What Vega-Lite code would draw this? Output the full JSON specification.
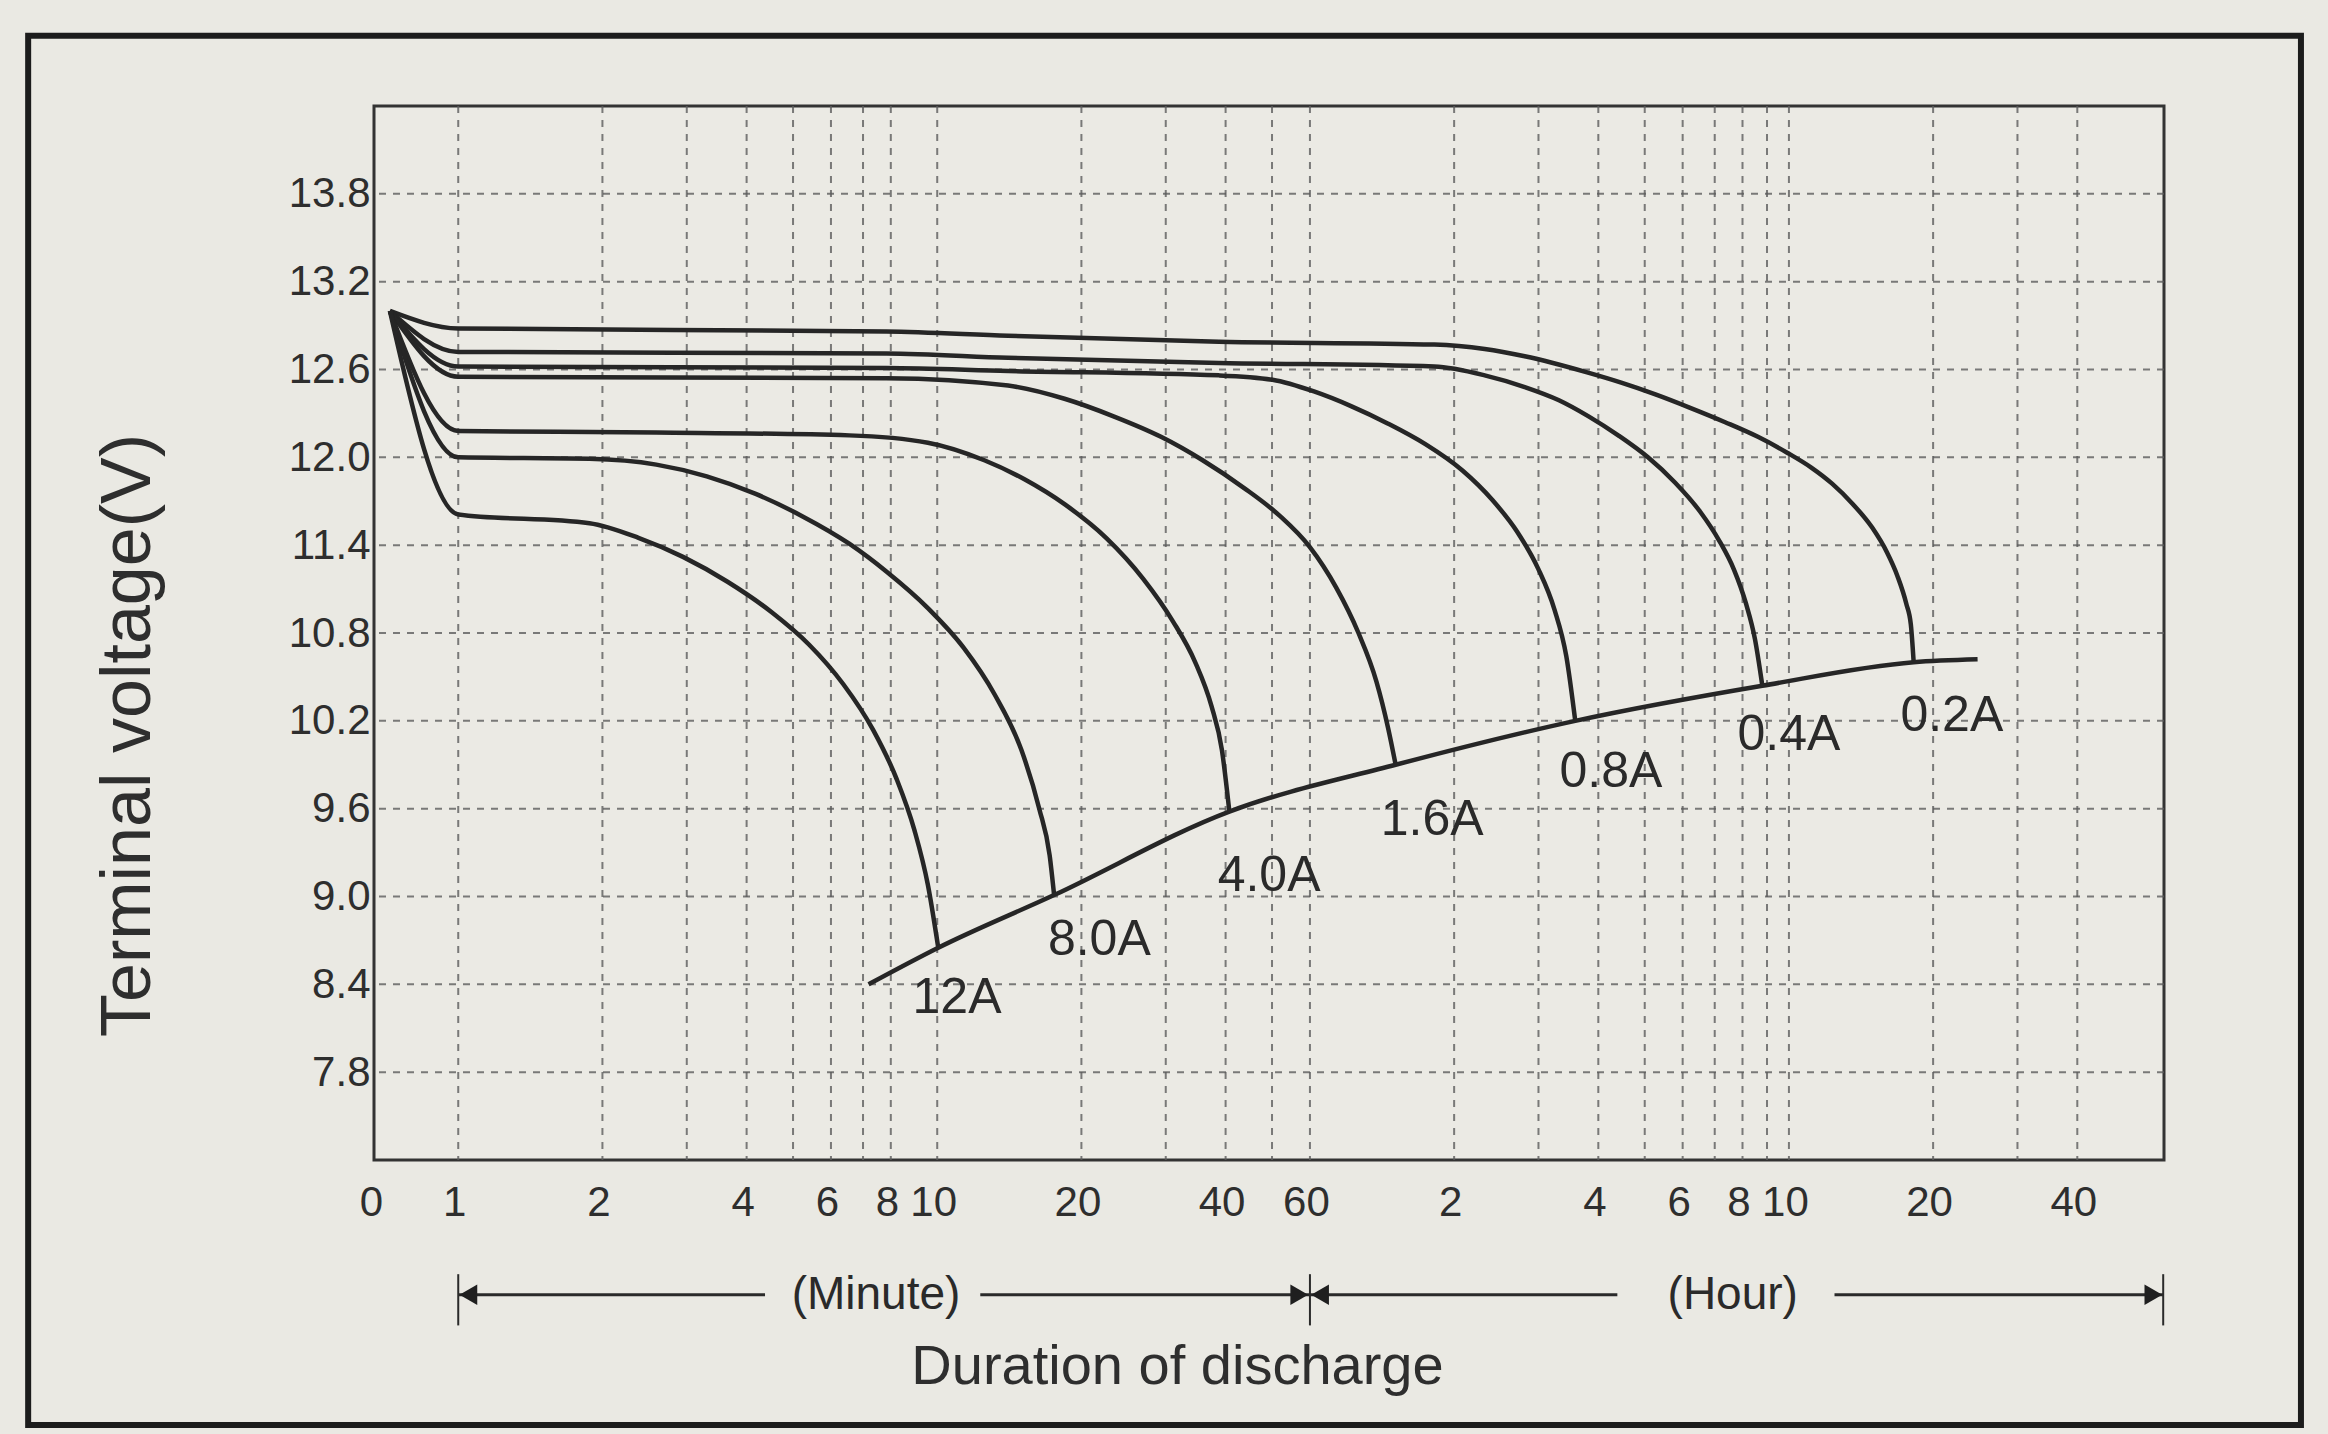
{
  "$schema": "https://vega.github.io/schema/vega-lite/v6.json",
  "width": 1790,
  "height": 1054,
  "autosize": {"type": "none"},
  "padding": {"left": 374, "top": 106, "right": 164, "bottom": 274},
  "background": "#eae9e3",
  "config": {
    "view": {"fill": "#ebeae4", "stroke": "#333333", "strokeWidth": 3},
    "axis": {"grid": false, "ticks": false, "domain": false, "labelFont": "Liberation Sans", "labelColor": "#2e2e2e", "titleFont": "Liberation Sans", "titleColor": "#2e2e2e", "titleFontWeight": "normal"},
    "text": {"font": "Liberation Sans"}
  },
  "datasets": {
    "ygrid": [{"volts": 7.8}, {"volts": 8.4}, {"volts": 9.0}, {"volts": 9.6}, {"volts": 10.2}, {"volts": 10.8}, {"volts": 11.4}, {"volts": 12.0}, {"volts": 12.6}, {"volts": 13.2}, {"volts": 13.8}],
    "xgrid": [{"minutes": 1}, {"minutes": 2}, {"minutes": 3}, {"minutes": 4}, {"minutes": 5}, {"minutes": 6}, {"minutes": 7}, {"minutes": 8}, {"minutes": 10}, {"minutes": 20}, {"minutes": 30}, {"minutes": 40}, {"minutes": 50}, {"minutes": 60}, {"minutes": 120}, {"minutes": 180}, {"minutes": 240}, {"minutes": 300}, {"minutes": 360}, {"minutes": 420}, {"minutes": 480}, {"minutes": 540}, {"minutes": 600}, {"minutes": 1200}, {"minutes": 1800}, {"minutes": 2400}],
    "curves": [
      {"current": "0.2A", "minutes": 0.72, "volts": 13.0},
      {"current": "0.2A", "minutes": 1.0, "volts": 12.88},
      {"current": "0.2A", "minutes": 7.83, "volts": 12.86},
      {"current": "0.2A", "minutes": 14.06, "volts": 12.83},
      {"current": "0.2A", "minutes": 38.73, "volts": 12.79},
      {"current": "0.2A", "minutes": 109.1, "volts": 12.77},
      {"current": "0.2A", "minutes": 139, "volts": 12.74},
      {"current": "0.2A", "minutes": 168.5, "volts": 12.69},
      {"current": "0.2A", "minutes": 227.4, "volts": 12.58},
      {"current": "0.2A", "minutes": 267.9, "volts": 12.51},
      {"current": "0.2A", "minutes": 315.8, "volts": 12.43},
      {"current": "0.2A", "minutes": 372.1, "volts": 12.34},
      {"current": "0.2A", "minutes": 441.6, "volts": 12.24},
      {"current": "0.2A", "minutes": 516.9, "volts": 12.14},
      {"current": "0.2A", "minutes": 596.2, "volts": 12.03},
      {"current": "0.2A", "minutes": 668.1, "volts": 11.93},
      {"current": "0.2A", "minutes": 738.4, "volts": 11.82},
      {"current": "0.2A", "minutes": 816.1, "volts": 11.68},
      {"current": "0.2A", "minutes": 895.3, "volts": 11.52},
      {"current": "0.2A", "minutes": 961.6, "volts": 11.35},
      {"current": "0.2A", "minutes": 1010.7, "volts": 11.19},
      {"current": "0.2A", "minutes": 1054.9, "volts": 11.0},
      {"current": "0.2A", "minutes": 1078, "volts": 10.86},
      {"current": "0.2A", "minutes": 1093, "volts": 10.6},
      {"current": "0.4A", "minutes": 0.72, "volts": 13.0},
      {"current": "0.4A", "minutes": 1.0, "volts": 12.72},
      {"current": "0.4A", "minutes": 7.83, "volts": 12.71},
      {"current": "0.4A", "minutes": 14.06, "volts": 12.68},
      {"current": "0.4A", "minutes": 38.73, "volts": 12.645},
      {"current": "0.4A", "minutes": 109.1, "volts": 12.62},
      {"current": "0.4A", "minutes": 139, "volts": 12.56},
      {"current": "0.4A", "minutes": 168.5, "volts": 12.48},
      {"current": "0.4A", "minutes": 198.6, "volts": 12.39},
      {"current": "0.4A", "minutes": 229.0, "volts": 12.28},
      {"current": "0.4A", "minutes": 264.1, "volts": 12.15},
      {"current": "0.4A", "minutes": 304.7, "volts": 12.0},
      {"current": "0.4A", "minutes": 346.5, "volts": 11.83},
      {"current": "0.4A", "minutes": 391.3, "volts": 11.63},
      {"current": "0.4A", "minutes": 429.3, "volts": 11.43},
      {"current": "0.4A", "minutes": 461.1, "volts": 11.23},
      {"current": "0.4A", "minutes": 488.2, "volts": 11.0},
      {"current": "0.4A", "minutes": 509.5, "volts": 10.76},
      {"current": "0.4A", "minutes": 528, "volts": 10.44},
      {"current": "0.8A", "minutes": 0.72, "volts": 13.0},
      {"current": "0.8A", "minutes": 1.0, "volts": 12.62},
      {"current": "0.8A", "minutes": 7.83, "volts": 12.61},
      {"current": "0.8A", "minutes": 14.06, "volts": 12.59},
      {"current": "0.8A", "minutes": 38.73, "volts": 12.56},
      {"current": "0.8A", "minutes": 50.1, "volts": 12.53},
      {"current": "0.8A", "minutes": 61.17, "volts": 12.45},
      {"current": "0.8A", "minutes": 73.1, "volts": 12.35},
      {"current": "0.8A", "minutes": 87.38, "volts": 12.23},
      {"current": "0.8A", "minutes": 104.5, "volts": 12.09},
      {"current": "0.8A", "minutes": 124.9, "volts": 11.91},
      {"current": "0.8A", "minutes": 144.1, "volts": 11.71},
      {"current": "0.8A", "minutes": 162.6, "volts": 11.49},
      {"current": "0.8A", "minutes": 179.7, "volts": 11.24},
      {"current": "0.8A", "minutes": 194.4, "volts": 10.96},
      {"current": "0.8A", "minutes": 205.8, "volts": 10.64},
      {"current": "0.8A", "minutes": 214.8, "volts": 10.2},
      {"current": "1.6A", "minutes": 0.72, "volts": 13.0},
      {"current": "1.6A", "minutes": 1.0, "volts": 12.55},
      {"current": "1.6A", "minutes": 7.83, "volts": 12.54},
      {"current": "1.6A", "minutes": 14.06, "volts": 12.49},
      {"current": "1.6A", "minutes": 18.44, "volts": 12.4},
      {"current": "1.6A", "minutes": 23.34, "volts": 12.28},
      {"current": "1.6A", "minutes": 29.32, "volts": 12.14},
      {"current": "1.6A", "minutes": 35.82, "volts": 11.98},
      {"current": "1.6A", "minutes": 43.73, "volts": 11.79},
      {"current": "1.6A", "minutes": 51.91, "volts": 11.6},
      {"current": "1.6A", "minutes": 59.87, "volts": 11.39},
      {"current": "1.6A", "minutes": 68.08, "volts": 11.11},
      {"current": "1.6A", "minutes": 75.77, "volts": 10.8},
      {"current": "1.6A", "minutes": 82.57, "volts": 10.47},
      {"current": "1.6A", "minutes": 87.38, "volts": 10.15},
      {"current": "1.6A", "minutes": 90.6, "volts": 9.9},
      {"current": "4.0A", "minutes": 0.72, "volts": 13.0},
      {"current": "4.0A", "minutes": 1.0, "volts": 12.18},
      {"current": "4.0A", "minutes": 2.591, "volts": 12.17},
      {"current": "4.0A", "minutes": 6.551, "volts": 12.15},
      {"current": "4.0A", "minutes": 9.56, "volts": 12.1},
      {"current": "4.0A", "minutes": 12.54, "volts": 11.98},
      {"current": "4.0A", "minutes": 15.21, "volts": 11.85},
      {"current": "4.0A", "minutes": 18.44, "volts": 11.68},
      {"current": "4.0A", "minutes": 22.52, "volts": 11.45},
      {"current": "4.0A", "minutes": 26.92, "volts": 11.17},
      {"current": "4.0A", "minutes": 31.05, "volts": 10.88},
      {"current": "4.0A", "minutes": 34.57, "volts": 10.6},
      {"current": "4.0A", "minutes": 37.38, "volts": 10.3},
      {"current": "4.0A", "minutes": 39.3, "volts": 10.0},
      {"current": "4.0A", "minutes": 40.73, "volts": 9.58},
      {"current": "8.0A", "minutes": 0.72, "volts": 13.0},
      {"current": "8.0A", "minutes": 1.0, "volts": 12.0},
      {"current": "8.0A", "minutes": 1.879, "volts": 11.99},
      {"current": "8.0A", "minutes": 2.591, "volts": 11.95},
      {"current": "8.0A", "minutes": 3.302, "volts": 11.87},
      {"current": "8.0A", "minutes": 4.179, "volts": 11.75},
      {"current": "8.0A", "minutes": 5.213, "volts": 11.6},
      {"current": "8.0A", "minutes": 6.551, "volts": 11.41},
      {"current": "8.0A", "minutes": 7.83, "volts": 11.22},
      {"current": "8.0A", "minutes": 9.56, "volts": 10.97},
      {"current": "8.0A", "minutes": 11.35, "volts": 10.7},
      {"current": "8.0A", "minutes": 13.18, "volts": 10.38},
      {"current": "8.0A", "minutes": 14.99, "volts": 10.0},
      {"current": "8.0A", "minutes": 16.33, "volts": 9.6},
      {"current": "8.0A", "minutes": 17.17, "volts": 9.28},
      {"current": "8.0A", "minutes": 17.54, "volts": 9.01},
      {"current": "12A", "minutes": 0.72, "volts": 13.0},
      {"current": "12A", "minutes": 1.0, "volts": 11.61},
      {"current": "12A", "minutes": 1.879, "volts": 11.55},
      {"current": "12A", "minutes": 2.378, "volts": 11.45},
      {"current": "12A", "minutes": 2.946, "volts": 11.32},
      {"current": "12A", "minutes": 3.649, "volts": 11.15},
      {"current": "12A", "minutes": 4.52, "volts": 10.94},
      {"current": "12A", "minutes": 5.403, "volts": 10.72},
      {"current": "12A", "minutes": 6.368, "volts": 10.45},
      {"current": "12A", "minutes": 7.343, "volts": 10.14},
      {"current": "12A", "minutes": 8.233, "volts": 9.8},
      {"current": "12A", "minutes": 8.968, "volts": 9.45},
      {"current": "12A", "minutes": 9.56, "volts": 9.08},
      {"current": "12A", "minutes": 10.05, "volts": 8.65}
    ],
    "endline": [
      {"minutes": 7.188, "volts": 8.4},
      {"minutes": 10.05, "volts": 8.65},
      {"minutes": 17.54, "volts": 9.01},
      {"minutes": 40.73, "volts": 9.58},
      {"minutes": 90.6, "volts": 9.9},
      {"minutes": 214.8, "volts": 10.2},
      {"minutes": 528, "volts": 10.44},
      {"minutes": 1093, "volts": 10.6},
      {"minutes": 1486, "volts": 10.62}
    ],
    "labels": [
      {"minutes": 11.0, "volts": 8.31, "text": "12A"},
      {"minutes": 21.8, "volts": 8.7, "text": "8.0A"},
      {"minutes": 49.3, "volts": 9.14, "text": "4.0A"},
      {"minutes": 108, "volts": 9.52, "text": "1.6A"},
      {"minutes": 255, "volts": 9.85, "text": "0.8A"},
      {"minutes": 600, "volts": 10.1, "text": "0.4A"},
      {"minutes": 1313, "volts": 10.23, "text": "0.2A"}
    ],
    "arrowlines": [
      {"minutes": 1, "minutes2": 4.37, "volts": 6.28},
      {"minutes": 12.3, "minutes2": 60, "volts": 6.28},
      {"minutes": 60, "minutes2": 263, "volts": 6.28},
      {"minutes": 747, "minutes2": 3627, "volts": 6.28}
    ],
    "bars": [
      {"minutes": 1, "volts": 6.42, "volts2": 6.07},
      {"minutes": 60, "volts": 6.42, "volts2": 6.07},
      {"minutes": 3627, "volts": 6.42, "volts2": 6.07}
    ],
    "heads": [
      {"minutes": 1.05, "volts": 6.28, "direction": "left"},
      {"minutes": 57, "volts": 6.28, "direction": "right"},
      {"minutes": 63, "volts": 6.28, "direction": "left"},
      {"minutes": 3460, "volts": 6.28, "direction": "right"}
    ],
    "units": [
      {"minutes": 7.45, "volts": 6.28, "text": "(Minute)"},
      {"minutes": 458, "volts": 6.28, "text": "(Hour)"}
    ],
    "frame": [
      {"minutes": 0.1265, "minutes2": 7033, "volts": 14.88, "volts2": 5.39}
    ]
  },
  "layer": [
    {
      "data": {"name": "ygrid"},
      "mark": {"type": "rule", "stroke": "#5c5c5c", "strokeWidth": 2, "strokeDash": [7, 7], "opacity": 0.8},
      "encoding": {
        "y": {"field": "volts", "type": "quantitative", "scale": {"domain": [7.2, 14.4], "nice": false, "zero": false}}
      }
    },
    {
      "data": {"name": "xgrid"},
      "mark": {"type": "rule", "stroke": "#5c5c5c", "strokeWidth": 2, "strokeDash": [7, 7], "opacity": 0.8},
      "encoding": {
        "x": {"field": "minutes", "type": "quantitative", "scale": {"type": "log", "domain": [0.667, 3641], "nice": false}}
      }
    },
    {
      "data": {"name": "curves"},
      "mark": {"type": "line", "stroke": "#262626", "strokeWidth": 4.5, "interpolate": "monotone"},
      "encoding": {
        "x": {"field": "minutes", "type": "quantitative", "scale": {"type": "log", "domain": [0.667, 3641], "nice": false},
          "axis": {"title": "Duration of discharge", "values": [0.67, 1, 2, 4, 6, 8, 10, 20, 40, 60, 120, 240, 360, 480, 600, 1200, 2400],
            "labelExpr": "datum.value < 0.9 ? '0' : datum.value >= 120 ? format(datum.value / 60, 'd') : format(datum.value, 'd')",
            "labelFontSize": 42, "labelPadding": 22, "labelOffset": -4, "labelOverlap": false, "labelFlush": false, "labelBound": false,
            "titleFontSize": 56, "titlePadding": 116, "titleX": 803}},
        "y": {"field": "volts", "type": "quantitative", "scale": {"domain": [7.2, 14.4], "nice": false, "zero": false},
          "axis": {"title": "Terminal voltage(V)", "values": [7.8, 8.4, 9.0, 9.6, 10.2, 10.8, 11.4, 12.0, 12.6, 13.2, 13.8], "format": ".1f",
            "labelFontSize": 42, "labelPadding": 4, "labelOverlap": false, "labelFlush": false,
            "titleFontSize": 70, "titlePadding": 124, "titleY": 629}},
        "detail": {"field": "current", "type": "nominal"}
      }
    },
    {
      "data": {"name": "endline"},
      "mark": {"type": "line", "stroke": "#262626", "strokeWidth": 4.5, "interpolate": "monotone"},
      "encoding": {
        "x": {"field": "minutes", "type": "quantitative", "scale": {"type": "log", "domain": [0.667, 3641], "nice": false}},
        "y": {"field": "volts", "type": "quantitative", "scale": {"domain": [7.2, 14.4], "nice": false, "zero": false}}
      }
    },
    {
      "data": {"name": "labels"},
      "mark": {"type": "text", "fontSize": 50, "color": "#2a2a2a", "align": "center", "baseline": "middle"},
      "encoding": {
        "x": {"field": "minutes", "type": "quantitative", "scale": {"type": "log", "domain": [0.667, 3641], "nice": false}},
        "y": {"field": "volts", "type": "quantitative", "scale": {"domain": [7.2, 14.4], "nice": false, "zero": false}},
        "text": {"field": "text"}
      }
    },
    {
      "data": {"name": "arrowlines"},
      "mark": {"type": "rule", "stroke": "#2a2a2a", "strokeWidth": 3},
      "encoding": {
        "x": {"field": "minutes", "type": "quantitative", "scale": {"type": "log", "domain": [0.667, 3641], "nice": false}},
        "x2": {"field": "minutes2"},
        "y": {"field": "volts", "type": "quantitative", "scale": {"domain": [7.2, 14.4], "nice": false, "zero": false}}
      }
    },
    {
      "data": {"name": "bars"},
      "mark": {"type": "rule", "stroke": "#2a2a2a", "strokeWidth": 2},
      "encoding": {
        "x": {"field": "minutes", "type": "quantitative", "scale": {"type": "log", "domain": [0.667, 3641], "nice": false}},
        "y": {"field": "volts", "type": "quantitative", "scale": {"domain": [7.2, 14.4], "nice": false, "zero": false}},
        "y2": {"field": "volts2"}
      }
    },
    {
      "data": {"name": "heads"},
      "mark": {"type": "point", "filled": true, "size": 420, "color": "#1f1f1f", "opacity": 1},
      "encoding": {
        "x": {"field": "minutes", "type": "quantitative", "scale": {"type": "log", "domain": [0.667, 3641], "nice": false}},
        "y": {"field": "volts", "type": "quantitative", "scale": {"domain": [7.2, 14.4], "nice": false, "zero": false}},
        "shape": {"field": "direction", "type": "nominal", "scale": {"domain": ["left", "right"], "range": ["triangle-left", "triangle-right"]}, "legend": null}
      }
    },
    {
      "data": {"name": "units"},
      "mark": {"type": "text", "fontSize": 46, "color": "#2a2a2a", "align": "center", "baseline": "middle"},
      "encoding": {
        "x": {"field": "minutes", "type": "quantitative", "scale": {"type": "log", "domain": [0.667, 3641], "nice": false}},
        "y": {"field": "volts", "type": "quantitative", "scale": {"domain": [7.2, 14.4], "nice": false, "zero": false}},
        "text": {"field": "text"}
      }
    },
    {
      "data": {"name": "frame"},
      "mark": {"type": "rect", "fillOpacity": 0, "stroke": "#1c1c1c", "strokeWidth": 6},
      "encoding": {
        "x": {"field": "minutes", "type": "quantitative", "scale": {"type": "log", "domain": [0.667, 3641], "nice": false}},
        "x2": {"field": "minutes2"},
        "y": {"field": "volts", "type": "quantitative", "scale": {"domain": [7.2, 14.4], "nice": false, "zero": false}},
        "y2": {"field": "volts2"}
      }
    }
  ]
}
